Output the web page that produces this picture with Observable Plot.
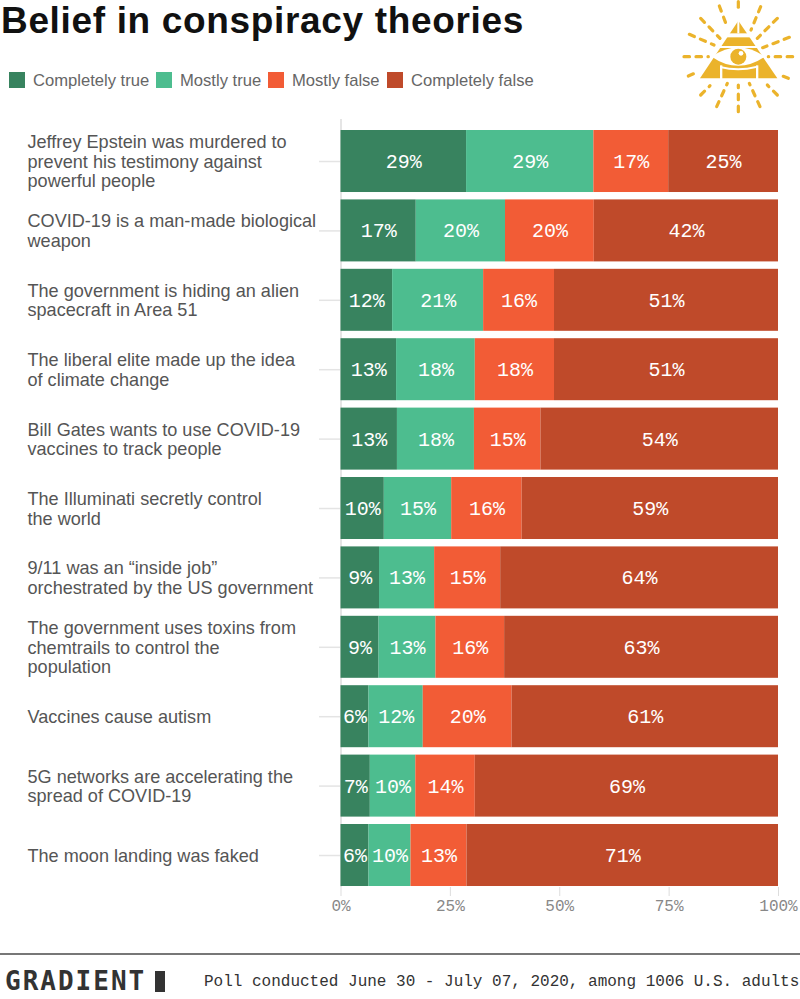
<!DOCTYPE html>
<html><head><meta charset="utf-8">
<script src="https://cdn.jsdelivr.net/npm/d3@7"></script>
<script src="https://cdn.jsdelivr.net/npm/@observablehq/plot@0.6"></script>
<style>
html,body{margin:0;padding:0;background:#fff;width:800px;height:999px;overflow:hidden}
#page{position:relative;width:800px;height:999px;overflow:hidden}
#title{position:absolute;left:1px;top:0;font:700 37px/normal "Liberation Sans",sans-serif;letter-spacing:0.66px;color:#111;white-space:nowrap}
#legend{position:absolute;left:9px;top:71px;font:16.6px/18px "Liberation Sans",sans-serif;color:#666;height:18px;width:600px}
#legend .it{position:absolute;top:0;display:flex;align-items:center;white-space:nowrap}
#legend .it span{position:relative;top:1px}
#legend .sw{width:16px;height:16px;margin-right:8px}
#chart{position:absolute;left:0;top:110px}
#logo{position:absolute;left:670px;top:0}
#rule{position:absolute;left:0;top:953px;width:800px;height:2px;background:#777}
#brand{position:absolute;left:5px;top:965px;font:700 26px/32px "DejaVu Sans Mono",monospace;color:#333;letter-spacing:2px;white-space:nowrap}
#block{position:absolute;left:155px;top:971px;width:10px;height:21px;background:#333}
#note{position:absolute;left:204px;top:972px;font:16px/20px "Liberation Mono",monospace;color:#333;white-space:nowrap}
</style></head><body>
<div id="page">
<div id="title">Belief in conspiracy theories</div>
<div id="legend"></div>
<div id="chart"></div>
<svg id="logo" width="130" height="120"></svg>
<div id="rule"></div>
<div id="brand">GRADIENT</div><div id="block"></div>
<div id="note">Poll conducted June 30 - July 07, 2020, among 1006 U.S. adults</div>
</div>
<script>
const categories = [
  "Jeffrey Epstein was murdered to\nprevent his testimony against\npowerful people",
  "COVID-19 is a man-made biological\nweapon",
  "The government is hiding an alien\nspacecraft in Area 51",
  "The liberal elite made up the idea\nof climate change",
  "Bill Gates wants to use COVID-19\nvaccines to track people",
  "The Illuminati secretly control\nthe world",
  "9/11 was an “inside job”\norchestrated by the US government",
  "The government uses toxins from\nchemtrails to control the\npopulation",
  "Vaccines cause autism",
  "5G networks are accelerating the\nspread of COVID-19",
  "The moon landing was faked"
];
const responses = ["Completely true","Mostly true","Mostly false","Completely false"];
const colors = ["#38835F","#4DBD8F","#F25C36","#BF4A2A"];
const completelyTrue  = [28.7,17.2,11.8,12.7,12.9, 9.9,8.8,8.7,6.4,6.7,6.4];
const mostlyTrue      = [29.1,20.4,20.8,18.0,17.6,15.4,12.6,13.0,12.4,10.4,9.6];
const mostlyFalse     = [17.1,20.3,16.2,18.1,15.2,16.1,15.1,15.7,20.3,13.6,12.8];
const completelyFalse = [25.1,42.1,51.2,51.2,54.3,58.6,63.5,62.6,60.9,69.3,71.2];
const xTicks = [0,25,50,75,100];
const series = [completelyTrue,mostlyTrue,mostlyFalse,completelyFalse];
const rows = categories.flatMap((c,i)=>responses.map((r,j)=>({category:c,response:r,value:series[j][i]})));

const legend = d3.select("#legend");
const legendLeft = [0,147,259,378];
responses.forEach((r,i)=>{
  const it = legend.append("div").attr("class","it").style("left",legendLeft[i]+"px");
  it.append("div").attr("class","sw").style("background",colors[i]);
  it.append("span").text(r);
});

const chart = Plot.plot({
  width:800,height:815,marginTop:9,marginBottom:38,marginLeft:340.5,marginRight:22,
  style:{background:"transparent",overflow:"visible"},
  x:{domain:[0,100],axis:null},
  y:{domain:categories,axis:null,paddingInner:0.1066,paddingOuter:0.0865,align:0.917,round:false},
  color:{domain:responses,range:colors},
  marks:[
    Plot.ruleX([0],{stroke:"#ddd",strokeWidth:1.5}),
    Plot.ruleY(categories,{y:d=>d,x1:-4.9,x2:0,stroke:"#e4e4e4",strokeWidth:1.5}),
    Plot.barX(rows,Plot.stackX({y:"category",x:"value",z:"response",fill:"response",order:responses})),
    Plot.text(rows,Plot.stackX({y:"category",x:"value",z:"response",order:responses,text:d=>Math.round(d.value)+"%",fill:"#fff",fontFamily:"'Liberation Mono',monospace",fontSize:20})),
    Plot.text(categories,{y:d=>d,text:d=>d,frameAnchor:"left",textAnchor:"start",dx:-313.5,lineHeight:1.085,fontFamily:"'Liberation Sans',sans-serif",fontSize:18.1,fill:"#555"}),
    Plot.axisX(xTicks,{anchor:"bottom",tickSize:9,tickPadding:3,stroke:"#ddd",tickFormat:d=>d+"%",fontFamily:"'Liberation Mono',monospace",fontSize:16,fill:"#888",labelArrow:"none",label:null})
  ]
});
document.getElementById("chart").appendChild(chart);

// decorative logo
const gold="#EBB32B";
const logo=d3.select("#logo"), s=1/3;
const z=a=>a*s;
const rays=[[205,5,205,40],[272,20,243,90],[322,55,262,115],[358,112,278,143],[368,170,295,170],[355,235,330,225],[322,285,292,255],[270,320,238,250],[205,335,205,255],[140,320,172,250],[92,285,120,257],[55,228,85,215],[42,170,115,170],[58,103,132,135],[92,55,150,115],[148,18,172,82]];
rays.forEach(r=>logo.append("line").attr("x1",z(r[0])).attr("y1",z(r[1])).attr("x2",z(r[2])).attr("y2",z(r[3])).attr("stroke",gold).attr("stroke-width",3.2).attr("stroke-linecap","round").attr("stroke-dasharray","5.5 6.5"));
logo.append("polygon").attr("points",[[205,62],[322,235],[90,235]].map(p=>p.map(z).join(",")).join(" ")).attr("fill",gold);
logo.append("rect").attr("x",z(165)).attr("y",z(100)).attr("width",z(80)).attr("height",z(12)).attr("fill","#fff");
logo.append("rect").attr("x",z(146)).attr("y",z(138)).attr("width",z(118)).attr("height",z(6)).attr("fill","#fff");
logo.append("rect").attr("x",z(202)).attr("y",z(60)).attr("width",z(6)).attr("height",z(40)).attr("fill","#fff");
logo.append("path").attr("d",`M${z(125)} ${z(170)} Q${z(205)} ${z(115)} ${z(285)} ${z(170)} Q${z(205)} ${z(225)} ${z(125)} ${z(170)}Z`).attr("fill","#fff");
logo.append("path").attr("d",`M${z(150)} ${z(198)} Q${z(205)} ${z(212)} ${z(258)} ${z(198)} L${z(258)} ${z(204)} Q${z(205)} ${z(218)} ${z(150)} ${z(204)}Z`).attr("fill","#fff");
[[150],[258]].forEach(x=>logo.append("rect").attr("x",z(x[0])).attr("y",z(196)).attr("width",z(7)).attr("height",z(42)).attr("fill","#fff"));
logo.append("circle").attr("cx",z(205)).attr("cy",z(170)).attr("r",z(24)).attr("fill",gold);
logo.append("circle").attr("cx",z(213)).attr("cy",z(160)).attr("r",z(7)).attr("fill","#fff");
</script>
</body></html>
